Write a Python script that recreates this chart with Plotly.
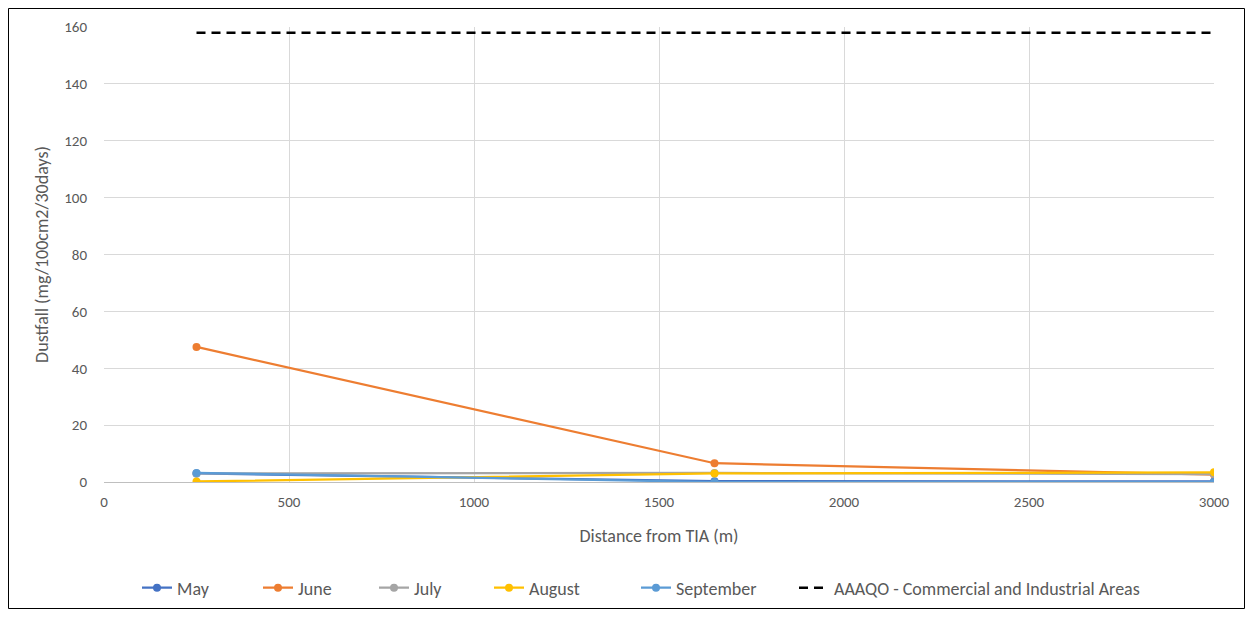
import plotly.graph_objects as go

distance = [250, 1650, 3000]
may = [3.0, 0.3, 0.2]
june = [47.5, 6.6, 2.6]
july = [3.0, 3.2, 2.8]
august = [0.2, 3.0, 3.4]
september = [3.2, 0.0, 0.0]
aaaqo_x = [250, 3000]
aaaqo_y = [158, 158]

series = [
    ("May", may, "#4472C4"),
    ("June", june, "#ED7D31"),
    ("July", july, "#A5A5A5"),
    ("August", august, "#FFC000"),
    ("September", september, "#5B9BD5"),
]

font_family = "Carlito, Calibri, Lato, sans-serif"
txt = "#595959"

# plot area in page pixels (page has 8px body margin)
PL, PR, PT, PB = 104, 1214, 27, 482
W, H = 1237, 601
OFF = 8
pw, ph = PR - PL, PB - PT

def px2x(px):
    return (px - PL) / pw

def py2y(py):
    return (PB - py) / ph

legend_text_starts = [177, 298, 414, 529, 676, 834]
legend_names = ["legend", "legend2", "legend3", "legend4", "legend5", "legend6"]

fig = go.Figure()
for i, (name, vals, col) in enumerate(series):
    fig.add_trace(go.Scatter(
        x=distance, y=vals, name=name, mode="lines+markers",
        line=dict(color=col, width=2.25),
        marker=dict(color=col, size=8),
        legend=legend_names[i],
    ))
fig.add_trace(go.Scatter(
    x=aaaqo_x, y=aaaqo_y, name="AAAQO - Commercial and Industrial Areas",
    mode="lines", line=dict(color="black", width=2.5, dash="9px,6px"),
    legend=legend_names[5],
))

legend_cfg = {}
for i, ln in enumerate(legend_names):
    legend_cfg[ln] = dict(
        orientation="h", x=px2x(legend_text_starts[i] - 40), xanchor="left",
        y=py2y(588), yanchor="middle",
        font=dict(size=18, color=txt, family=font_family),
        bgcolor="rgba(0,0,0,0)", borderwidth=0, itemwidth=30,
    )

fig.update_layout(
    width=W, height=H,
    margin=dict(l=PL - OFF, r=W + OFF - PR, t=PT - OFF, b=H + OFF - PB, autoexpand=False),
    paper_bgcolor="white", plot_bgcolor="white",
    font=dict(family=font_family, size=15, color=txt),
    showlegend=True,
    shapes=[dict(type="rect", xref="paper", yref="paper",
                 x0=px2x(8.5), x1=px2x(1244.5), y0=py2y(608.5), y1=py2y(8.5),
                 line=dict(color="black", width=1), fillcolor="rgba(0,0,0,0)", layer="below")],
    **legend_cfg,
)
fig.update_xaxes(
    range=[0, 3000], dtick=500, tick0=0,
    showgrid=True, gridcolor="#D9D9D9", gridwidth=1,
    zeroline=False, showline=True, linecolor="#BFBFBF",
    ticks="", ticklabelstandoff=6, tickfont=dict(size=15),
    title=dict(text="Distance from TIA (m)", standoff=19, font=dict(size=18, color=txt)),
)
fig.update_yaxes(
    range=[0, 160], dtick=20, tick0=0,
    showgrid=True, gridcolor="#D9D9D9", gridwidth=1,
    zeroline=False, showline=False,
    ticks="", ticklabelstandoff=16, tickfont=dict(size=15),
    title=dict(text="Dustfall (mg/100cm2/30days)", standoff=10, font=dict(size=18, color=txt)),
)

fig.write_html("out.html")
